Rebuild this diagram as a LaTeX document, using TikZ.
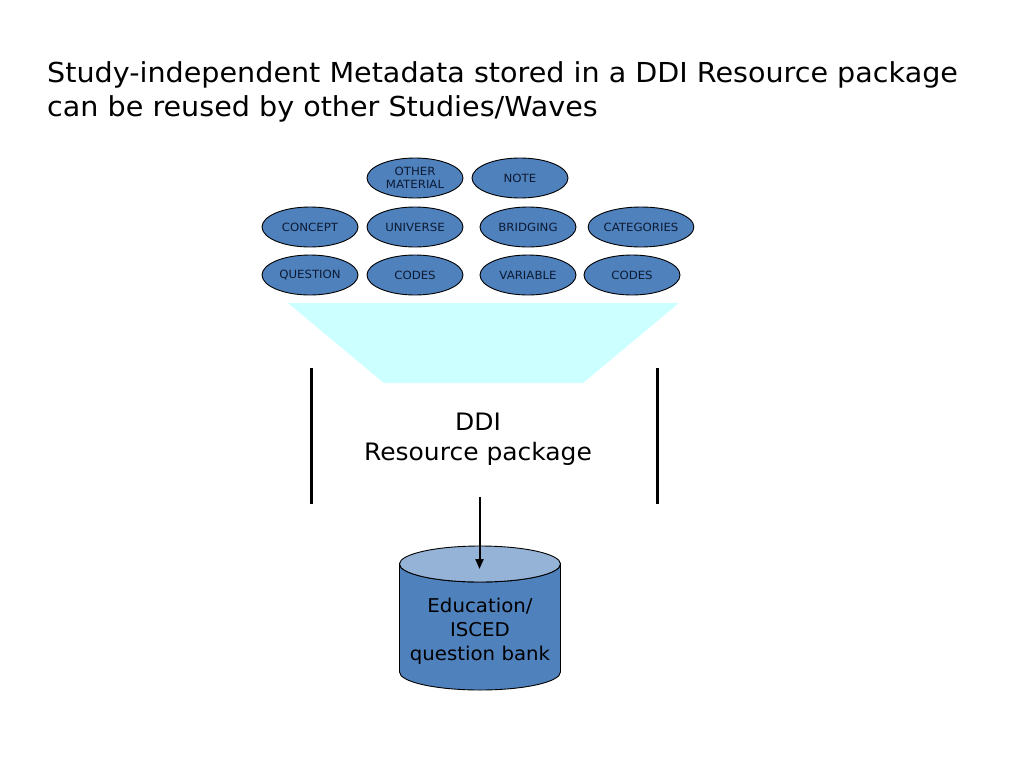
\documentclass[tikz,border=0pt]{standalone}
\usepackage{fontspec}
\setmainfont{DejaVu Sans}[FakeStretch=1.04]
\usetikzlibrary{shapes.geometric,arrows.meta}

\definecolor{itemblue}{HTML}{4F81BD}
\definecolor{lidblue}{HTML}{95B3D7}
\definecolor{funnelcyan}{HTML}{CCFFFF}
\definecolor{itemtext}{HTML}{0C1A33}

\begin{document}
\begin{tikzpicture}[x=1pt,y=-1pt,
  item/.style={shape=ellipse,draw=black,line width=0.9pt,fill=itemblue,
    minimum width=96pt,minimum height=40pt,inner sep=0pt,align=center,
    text=itemtext,font=\fontsize{11.3}{13.5}\selectfont}]

  \useasboundingbox (0,0) rectangle (1024,768);

  % title
  \node[anchor=north west,inner sep=0pt,align=left,
    font=\fontsize{27.5}{34}\selectfont] (title) at (47,61)
    {Study-independent Metadata stored in a DDI Resource package\\
     can be reused by other Studies/Waves};

  % draw metadata items
  \node[item] (other) at (415,178) {OTHER\\MATERIAL};
  \foreach \name/\x/\y/\t in {note/520/178/NOTE,
      concept/310/227/CONCEPT, universe/415/227/UNIVERSE,
      bridging/528/227/BRIDGING, categories/641/227/CATEGORIES,
      question/310/275/QUESTION, codesa/415/275/CODES,
      variable/528/275/VARIABLE, codesb/632/275/CODES} {
    \node[item] (\name) at (\x,\y) {\t};
  };

  % funnel and package walls
  \fill[funnelcyan] (288,303) -- (679,303) -- (583,383) -- (384,383) -- cycle;
  \draw[line width=3pt] (311,368) -- (311,504);
  \draw[line width=3pt] (657,368) -- (657,504);

  \node[align=center,inner sep=0pt,font=\fontsize{24}{30}\selectfont] (ddi)
    at (478,439) {DDI\\Resource package};

  % question bank cylinder
  \filldraw[fill=itemblue,draw=black,line width=0.9pt] (399.5,564) -- (399.5,672)
    arc[start angle=180,end angle=0,x radius=80.5,y radius=18] -- (560.5,564)
    arc[start angle=0,end angle=180,x radius=80.5,y radius=18] -- cycle;
  \filldraw[fill=lidblue,draw=black,line width=0.9pt] (480,564)
    ellipse[x radius=80.5,y radius=18];
  \coordinate (lid) at (479.5,569);

  \node[align=center,inner sep=0pt,font=\fontsize{19}{24}\selectfont] (bank)
    at (480,631) {Education/\\ISCED\\question bank};

  \draw[line width=2pt,-{Triangle[length=10pt,width=8pt]},shorten <=31.5pt]
    (ddi.south -| lid) -- (lid);

\end{tikzpicture}
\end{document}
